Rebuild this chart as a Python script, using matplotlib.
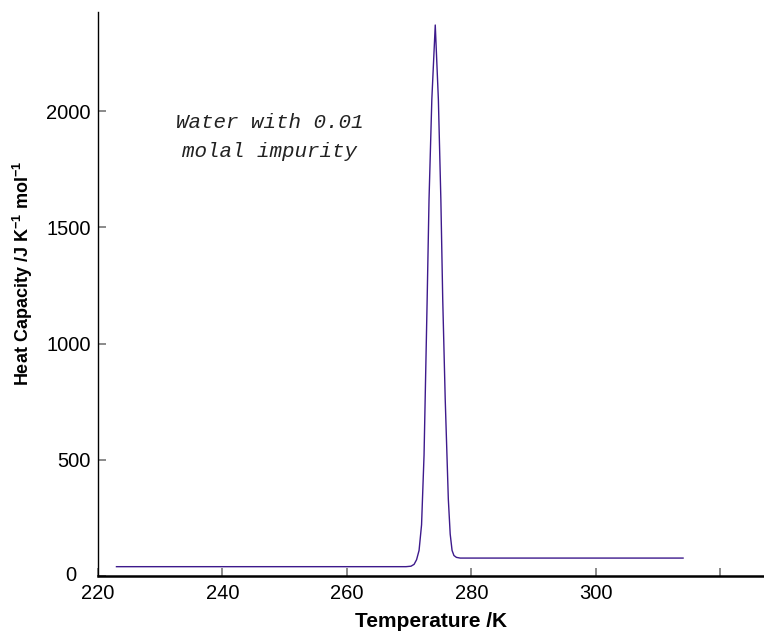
import matplotlib
matplotlib.use("Agg")
import matplotlib.pyplot as plt
import matplotlib.transforms as mtransforms

plt.rcParams['font.family'] = ['Liberation Sans', 'DejaVu Sans']
plt.rcParams['mathtext.fontset'] = 'custom'
plt.rcParams['mathtext.rm'] = 'Liberation Sans'
plt.rcParams['mathtext.bf'] = 'Liberation Sans:bold'

# temperature (K) and heat capacity (J K-1 mol-1)
temperature = [223.0, 269.5, 270.3, 270.8, 271.2, 271.6, 272.0, 272.4, 272.9,
               273.2, 273.65, 274.2, 274.7, 275.1, 275.4, 275.8, 276.3, 276.6,
               276.9, 277.2, 277.6, 278.2, 314.0]
heat_capacity = [40, 40, 42, 50, 70, 110, 220, 520, 1190,
                 1620, 2050, 2370, 2050, 1620, 1190, 760, 330, 180,
                 110, 88, 80, 77, 77]

x_ticks = [220, 240, 260, 280, 300, 320]
x_labels = ['220', '240', '260', '280', '300', '']
y_ticks = [0, 500, 1000, 1500, 2000]

fig = plt.figure(figsize=(7.64, 6.37), dpi=100)
ax = fig.add_axes([0.128, 0.0958, 0.872, 0.885])

ax.plot(temperature, heat_capacity, color='#3d1a8c', linewidth=1.0)

ax.set_xlim(220, 327)
ax.set_ylim(0, 2425)
ax.set_xticks(x_ticks)
ax.set_xticklabels(x_labels)
ax.set_yticks(y_ticks)

ax.spines['top'].set_visible(False)
ax.spines['right'].set_visible(False)
ax.spines['bottom'].set_linewidth(1.8)
ax.spines['left'].set_linewidth(1.0)
ax.tick_params(axis='both', direction='in', length=6, color='#777777',
               labelsize=14.5, width=1.2)
ax.tick_params(axis='x', pad=6)
ax.tick_params(axis='y', pad=5)

# the "0" sits further left, clear of "220"
zero = ax.get_yticklabels()[0]
zero.set_transform(zero.get_transform() +
                   mtransforms.ScaledTranslation(-0.14, 0.02, fig.dpi_scale_trans))

ax.set_xlabel('Temperature /K', fontsize=15, fontweight='bold', labelpad=6)
ax.set_ylabel('Heat Capacity /J K$^{\\mathbf{-1}}$ mol$^{\\mathbf{-1}}$',
              fontsize=13, fontweight='bold')
ax.yaxis.set_label_coords(-0.0946, 0.537)

ax.text(247.6, 1888, 'Water with 0.01\nmolal impurity', ha='center', va='center',
        fontsize=15, family='Liberation Mono', style='italic', linespacing=1.65,
        color='#222222')

fig.savefig('out.png', dpi=100)
